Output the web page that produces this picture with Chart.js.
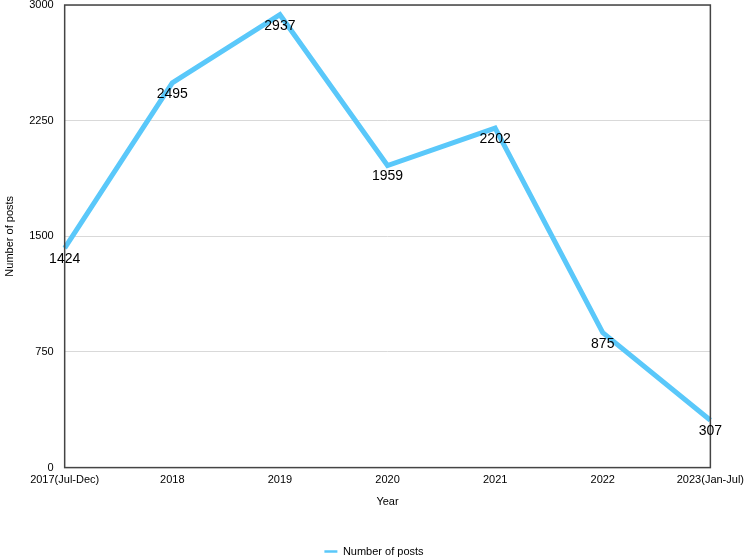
<!DOCTYPE html>
<html>
<head>
<meta charset="utf-8">
<script src="https://cdn.jsdelivr.net/npm/chart.js@4"></script>
<style>
  html, body { margin: 0; padding: 0; background: #fff; }
  #wrap { width: 750px; height: 559px; }
</style>
</head>
<body>
<div id="wrap"><canvas id="chart"></canvas></div>
<script>
const years = ['2017(Jul-Dec)', '2018', '2019', '2020', '2021', '2022', '2023(Jan-Jul)'];
const posts = [1424, 2495, 2937, 1959, 2202, 875, 307];
const yTicks = [0, 750, 1500, 2250, 3000];

const FONT = "'Liberation Sans', Arial, sans-serif";

// box round the plot area + value labels under each point
const boxAndLabels = {
    id: 'boxAndLabels',
    afterDatasetsDraw(chart) {
        const ctx = chart.ctx;
        const a = chart.chartArea;
        ctx.save();
        ctx.strokeStyle = '#444';
        ctx.lineWidth = 1.5;
        ctx.strokeRect(a.left, a.top, a.right - a.left, a.bottom - a.top);

        const meta = chart.getDatasetMeta(0);
        ctx.fillStyle = '#000';
        ctx.font = '14px ' + FONT;
        ctx.textAlign = 'center';
        ctx.textBaseline = 'middle';
        meta.data.forEach((pt, i) => {
            ctx.fillText(String(posts[i]), pt.x, pt.y + 11);
        });
        ctx.restore();
    }
};

new Chart(document.getElementById('chart'), {
    type: 'line',
    data: {
        labels: years,
        datasets: [{
            label: 'Number of posts',
            data: posts,
            borderColor: '#5AC8FA',
            backgroundColor: '#5AC8FA',
            borderWidth: 5,
            pointRadius: 0,
            pointStyle: 'line',
            tension: 0,
            fill: false
        }]
    },
    options: {
        responsive: true,
        maintainAspectRatio: false,
        animation: false,
        layout: { autoPadding: false, padding: { top: 5, right: 3, left: 1, bottom: -8 } },
        plugins: {
            legend: {
                position: 'bottom',
                labels: {
                    usePointStyle: true,
                    pointStyleWidth: 13,
                    padding: 0,
                    color: '#000',
                    font: { family: FONT, size: 11 },
                    generateLabels(chart) {
                        return Chart.defaults.plugins.legend.labels.generateLabels(chart)
                            .map(item => Object.assign(item, { lineWidth: 2.5 }));
                    }
                }
            },
            tooltip: { enabled: false }
        },
        scales: {
            x: {
                offset: false,
                grid: { display: false, drawTicks: false },
                border: { display: false },
                ticks: {
                    padding: 6,
                    color: '#000',
                    maxRotation: 0,
                    autoSkip: false,
                    font: { family: FONT, size: 11 }
                },
                title: {
                    display: true,
                    text: 'Year',
                    color: '#000',
                    font: { family: FONT, size: 11 },
                    padding: { top: 3, bottom: 37 }
                }
            },
            y: {
                min: 0,
                max: 3000,
                afterBuildTicks(axis) {
                    axis.ticks = yTicks.map(v => ({ value: v }));
                },
                afterFit(axis) {
                    axis.paddingTop = 0;
                    axis.paddingBottom = 0;
                },
                grid: { color: '#d9d9d9', drawTicks: false, lineWidth: 1 },
                border: { display: false },
                ticks: {
                    padding: 11,
                    color: '#000',
                    font: { family: FONT, size: 11 },
                    callback: v => String(v)
                },
                title: {
                    display: true,
                    text: 'Number of posts',
                    color: '#000',
                    font: { family: FONT, size: 11 },
                    padding: { top: 2, bottom: 2 }
                }
            }
        }
    },
    plugins: [boxAndLabels]
});
</script>
</body>
</html>
